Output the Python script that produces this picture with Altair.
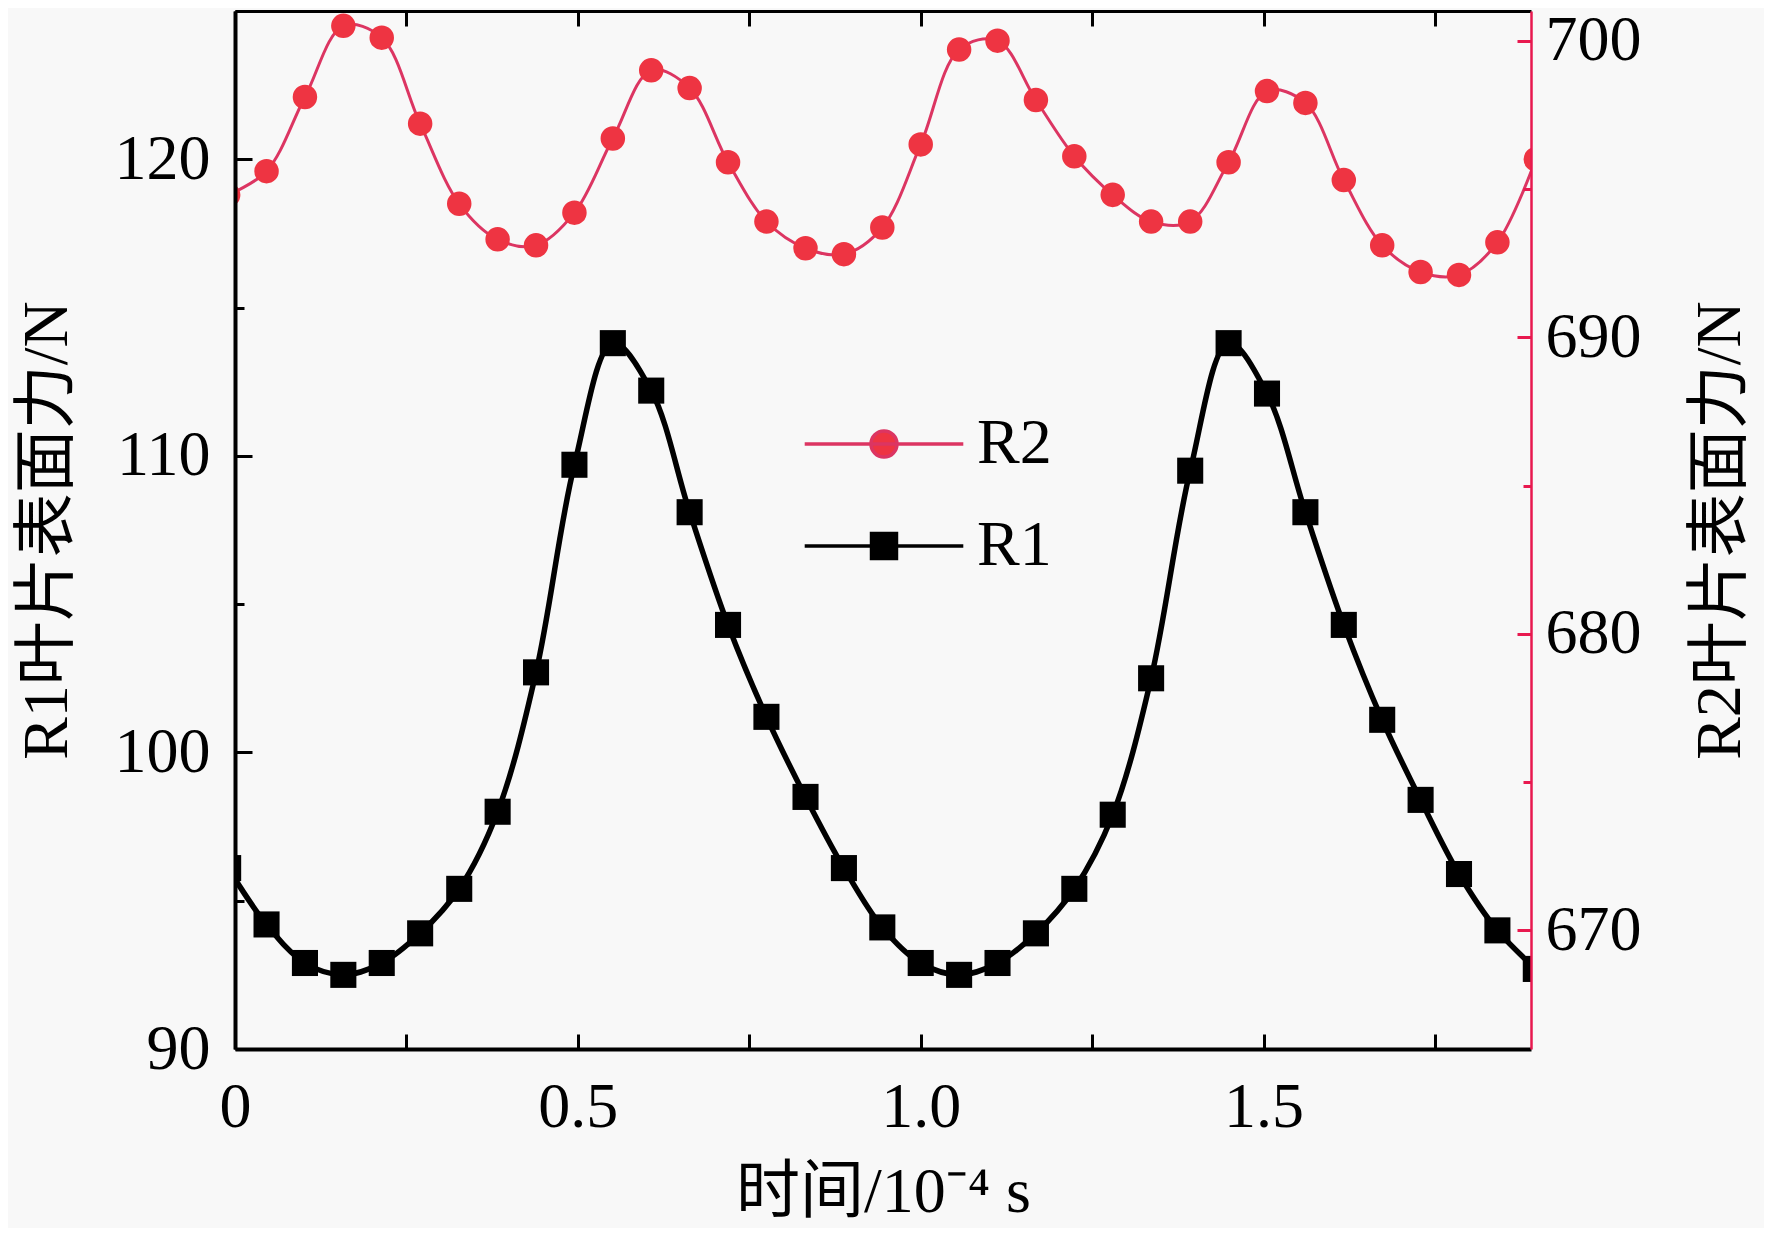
import altair as alt
import pandas as pd

# ---- data ----
t = [-0.010, 0.046, 0.102, 0.158, 0.214, 0.270, 0.327, 0.383, 0.439, 0.495,
     0.551, 0.607, 0.663, 0.719, 0.775, 0.832, 0.888, 0.944, 1.000, 1.056,
     1.112, 1.168, 1.224, 1.280, 1.336, 1.393, 1.449, 1.505, 1.561, 1.617,
     1.673, 1.729, 1.785, 1.841, 1.897]
r1 = [96.1, 94.2, 92.9, 92.5, 92.9, 93.9, 95.4, 98.0, 102.7, 109.7,
      113.8, 112.2, 108.1, 104.3, 101.2, 98.5, 96.1, 94.1, 92.9, 92.5,
      92.9, 93.9, 95.4, 97.9, 102.5, 109.5, 113.8, 112.1, 108.1, 104.3,
      101.1, 98.4, 95.9, 94.0, 92.7]
r2 = [694.8, 695.6, 698.1, 700.5, 700.1, 697.2, 694.5, 693.3, 693.1, 694.2,
      696.7, 699.0, 698.4, 695.9, 693.9, 693.0, 692.8, 693.7, 696.5, 699.7,
      700.0, 698.0, 696.1, 694.8, 693.9, 693.9, 695.9, 698.3, 697.9, 695.3,
      693.1, 692.2, 692.1, 693.2, 696.0]
series_names = ["R2", "R1"]
x_ticks = [0, 0.25, 0.5, 0.75, 1.0, 1.25, 1.5, 1.75]
y1_ticks = [90, 95, 100, 105, 110, 115, 120, 125]
y2_ticks = [670, 675, 680, 685, 690, 695, 700]
x_title = "时间/10⁻⁴ s"
y1_title = "R1叶片表面力/N"
y2_title = "R2叶片表面力/N"

df1 = pd.DataFrame({"t": t, "v": r1, "series": "R1"})
df2 = pd.DataFrame({"t": t, "v": r2, "series": "R2"})

FONT = "Liberation Serif, Times New Roman, Noto Sans CJK SC"
RED_LINE = "#dc3562"
RED_MARK = "#ee3442"
RED_AXIS = "#e8194f"
W, H = 1296, 1038

xscale = alt.Scale(domain=[0, 1.89], nice=False, zero=False)
y1scale = alt.Scale(domain=[90, 125], nice=False, zero=False)
y2scale = alt.Scale(domain=[666, 701], nice=False, zero=False)

common = dict(labelFont=FONT, labelFontSize=64, labelColor="black",
              titleFont=FONT, titleFontSize=64, titleColor="black",
              titleFontWeight="normal", ticks=False, tickSize=0,
              labelOverlap=False, labelFlush=False, grid=True,
              gridWidth=3, gridOpacity=1, zindex=1)

x_bottom = alt.Axis(orient="bottom", values=x_ticks,
                    labelExpr="datum.value == 0 ? '0' : (datum.value * 2 == floor(datum.value * 2) ? format(datum.value, '.1f') : '')",
                    gridDash=[15, 5000], gridColor="black",
                    domainColor="black", domainWidth=4, labelPadding=26,
                    title=x_title, titleX=W / 2, titleY=143,
                    titleBaseline="middle", titleAlign="center", **common)
x_top = alt.Axis(orient="top", values=x_ticks, labels=False,
                 gridDash=[15, 5000], gridColor="black",
                 domainColor="black", domainWidth=3, title=None, **common)

y_left = alt.Axis(orient="left", values=y1_ticks,
                  labelExpr="datum.value % 10 === 0 ? datum.label : ''",
                  gridDash={"condition": {"test": "datum.value % 10 === 0", "value": [17, 5000]}, "value": [9, 5000]},
                  gridColor="black", domainColor="black", domainWidth=4,
                  labelPadding=25, title=y1_title, titleX=-188, titleY=H / 2,
                  titleAngle=270, titleBaseline="middle", titleAlign="center",
                  **common)
y_right = alt.Axis(orient="right", values=y2_ticks,
                   labelExpr="datum.value % 10 === 0 ? datum.label : ''",
                   gridDash={"condition": {"test": "datum.value % 10 === 0", "value": [14, 5000]}, "value": [8, 5000]},
                   gridColor=RED_AXIS, domainColor=RED_AXIS, domainWidth=2.5,
                   labelPadding=14, title=y2_title, titleX=189, titleY=H / 2,
                   titleAngle=270, titleBaseline="middle", titleAlign="center",
                   **common)

# legend symbols: a line segment with the marker in its middle
CIRCLE_PATH = "M-6.1,0L6.1,0M1,0A1,1,0,1,1,-1,0A1,1,0,1,1,1,0Z"
SQUARE_PATH = "M-6.1,0L6.1,0M-0.96,-0.96L0.96,-0.96L0.96,0.96L-0.96,0.96Z"
legend = alt.Legend(title=None, orient="none", legendX=617, legendY=401,
                    symbolSize=676, labelFont=FONT, labelFontSize=64,
                    labelColor="black", labelOffset=61, rowPadding=38,
                    padding=0, symbolStrokeWidth=3.5)

l1 = alt.Chart(df1).mark_line(color="black", strokeWidth=5.5,
                              interpolate="catmull-rom", clip=True).encode(
    x=alt.X("t:Q", scale=xscale, axis=x_bottom),
    y=alt.Y("v:Q", scale=y1scale, axis=y_left),
)
p1 = alt.Chart(df1).mark_point(shape="square", filled=True, size=680,
                               opacity=1, clip=True, color="black").encode(
    x=alt.X("t:Q", scale=xscale, axis=None),
    y=alt.Y("v:Q", scale=y1scale, axis=None),
)
l2 = alt.Chart(df2).mark_line(color=RED_LINE, strokeWidth=3,
                              interpolate="catmull-rom", clip=True).encode(
    x=alt.X("t:Q", scale=xscale, axis=x_top),
    y=alt.Y("v:Q", scale=y2scale, axis=y_right),
)
p2 = alt.Chart(df2).mark_point(shape="circle", filled=True, size=600,
                               opacity=1, clip=True, color=RED_MARK).encode(
    x=alt.X("t:Q", scale=xscale, axis=None),
    y=alt.Y("v:Q", scale=y2scale, axis=None),
)
# legend-only layer (draws no marks)
lg = alt.Chart(df1).transform_filter("false").mark_point(
    filled=False, opacity=1, strokeWidth=3.5).encode(
    x=alt.X("t:Q", scale=xscale, axis=None),
    y=alt.Y("v:Q", scale=y1scale, axis=None),
    fill=alt.Fill("series:N", scale=alt.Scale(domain=series_names, range=[RED_MARK, "black"]), legend=legend),
    stroke=alt.Stroke("series:N", scale=alt.Scale(domain=series_names, range=[RED_LINE, "black"]), legend=legend),
    shape=alt.Shape("series:N", scale=alt.Scale(domain=series_names, range=[CIRCLE_PATH, SQUARE_PATH]), legend=legend),
)

chart = alt.layer(l2, p2, l1, p1, lg).resolve_scale(
    y="independent"
).resolve_axis(
    x="independent", y="independent"
).properties(
    width=W, height=H, autosize="none",
    padding={"left": 227, "top": 3, "right": 233, "bottom": 179},
    background="#f8f8f8",
).configure_view(stroke=None)

chart.save("out.html", embed_options={"renderer": "svg", "actions": False})
